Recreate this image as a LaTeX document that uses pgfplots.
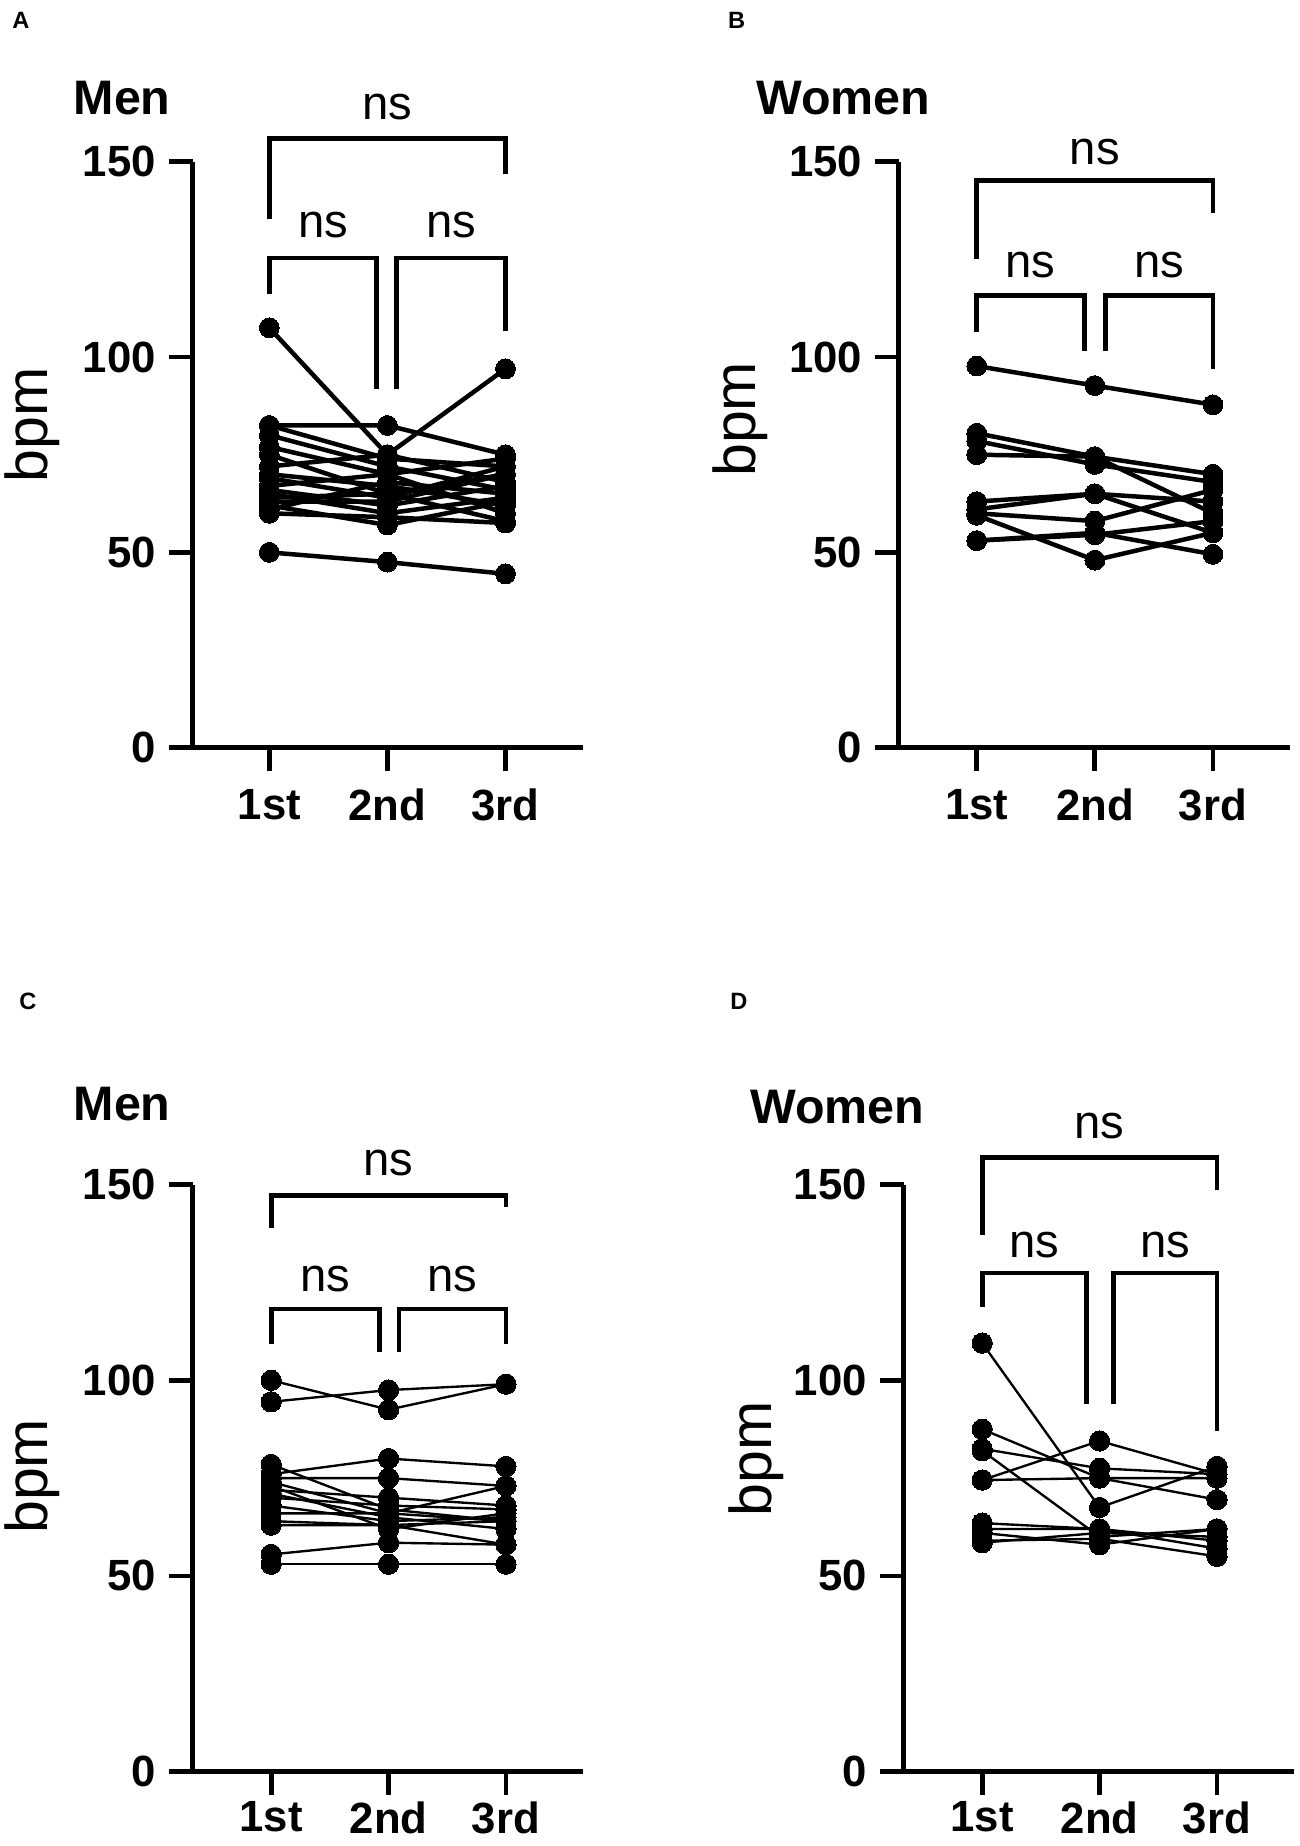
\documentclass[border=0pt]{standalone}
\usepackage{pgfplots}
\pgfplotsset{compat=1.18}
\usepackage{fontspec}
\setmainfont{Liberation Sans}
\pgfplotsset{
  panel/.style={
    scale only axis, width=165.5pt, height=248pt,
    ymin=0, ymax=150, anchor=south west, clip=false,
    axis x line*=bottom, axis y line*=left,
    axis line style={-, line width=2pt, black},
    xtick={1,2,3}, xticklabels={1st,2nd,3rd},
    ytick={0,50,100,150},
    tick align=outside, major tick length=10pt,
    tick style={line width=2pt, black},
    /pgf/number format/assume math mode=true,
    tick label style={font=\bfseries\fontsize{18.5}{20}\selectfont},
    xticklabel style={anchor=north, yshift=-4pt},
    yticklabel style={anchor=east, xshift=-2pt},
  },
  lowpanel/.style={xticklabel style={anchor=north, yshift=1.5pt, inner ysep=0pt}},
  subjA/.style={black, line width=1.9pt, mark=*, mark size=4.2pt, mark options={solid, fill=black, line width=0pt}},
  subjC/.style={black, line width=1pt, mark=*, mark size=4.3pt, mark options={solid, fill=black, line width=0pt}},
}
\tikzset{
  brk/.style={line width=2pt, black, line join=miter},
  ns/.style={font=\fontsize{20}{22}\selectfont, inner sep=0pt},
  lab/.style={anchor=west, inner sep=0pt},
}
\newcommand{\lbl}[1]{\fontsize{10}{12}\selectfont\bfseries #1}
\newcommand{\ttl}[1]{\fontsize{20.5}{24}\selectfont\bfseries #1}
\newcommand{\bpm}{\fontsize{25}{28}\selectfont bpm}
\begin{document}
\begin{tikzpicture}
\path[use as bounding box] (0,0) rectangle (550pt,-781.5pt);
% ---------- A ----------
\node[lab] at (5pt,-8.5pt) {\lbl{A}};
\node[lab] at (31pt,-41.5pt) {\ttl{Men}};
\node[rotate=90] at (13.5pt,-180pt) {\bpm};
\begin{axis}[panel, at={(81.5pt,-316.5pt)}, xmin=0.35, xmax=3.66]
\addplot[subjA] coordinates {(1,107.5) (2,75) (3,97)};
\addplot[subjA] coordinates {(1,82.5) (2,82.5) (3,75)};
\addplot[subjA] coordinates {(1,82.5) (2,74) (3,72)};
\addplot[subjA] coordinates {(1,80) (2,72) (3,66)};
\addplot[subjA] coordinates {(1,77) (2,70) (3,74)};
\addplot[subjA] coordinates {(1,75) (2,65) (3,70)};
\addplot[subjA] coordinates {(1,72) (2,75) (3,68)};
\addplot[subjA] coordinates {(1,70) (2,67) (3,62)};
\addplot[subjA] coordinates {(1,69) (2,64) (3,72)};
\addplot[subjA] coordinates {(1,67) (2,70) (3,60)};
\addplot[subjA] coordinates {(1,66) (2,62) (3,67)};
\addplot[subjA] coordinates {(1,65) (2,60) (3,64)};
\addplot[subjA] coordinates {(1,64) (2,65) (3,58)};
\addplot[subjA] coordinates {(1,63) (2,63) (3,70)};
\addplot[subjA] coordinates {(1,62) (2,57) (3,63)};
\addplot[subjA] coordinates {(1,60) (2,59) (3,57.5)};
\addplot[subjA] coordinates {(1,61) (2,68) (3,65)};
\addplot[subjA] coordinates {(1,50) (2,47.5) (3,44.5)};
\draw[brk] (axis cs:1,135.3) -- (axis cs:1,155.9) -- (axis cs:3,155.9) -- (axis cs:3,147);
\draw[brk] (axis cs:1,116.2) -- (axis cs:1,125.4) -- (axis cs:1.91,125.4) -- (axis cs:1.91,91.7);
\draw[brk] (axis cs:2.08,91.7) -- (axis cs:2.08,125.4) -- (axis cs:3,125.4) -- (axis cs:3,106.8);
\node[ns] at (axis cs:2,164) {ns};
\node[ns] at (axis cs:1.455,133.8) {ns};
\node[ns] at (axis cs:2.54,133.8) {ns};
\end{axis}
% ---------- B ----------
\node[lab] at (308pt,-8.5pt) {\lbl{B}};
\node[lab] at (320pt,-41.5pt) {\ttl{Women}};
\node[rotate=90] at (313.5pt,-177.5pt) {\bpm};
\begin{axis}[panel, at={(380.5pt,-316.5pt)}, xmin=0.34, xmax=3.65]
\addplot[subjA] coordinates {(1,97.7) (2,92.7) (3,87.8)};
\addplot[subjA] coordinates {(1,80.5) (2,74.5) (3,70)};
\addplot[subjA] coordinates {(1,78.5) (2,72.5) (3,68)};
\addplot[subjA] coordinates {(1,75) (2,74.5) (3,60)};
\addplot[subjA] coordinates {(1,63) (2,65) (3,63)};
\addplot[subjA] coordinates {(1,61) (2,65) (3,55)};
\addplot[subjA] coordinates {(1,60) (2,58) (3,66)};
\addplot[subjA] coordinates {(1,59.5) (2,48) (3,55)};
\addplot[subjA] coordinates {(1,53) (2,55) (3,49.5)};
\addplot[subjA] coordinates {(1,53) (2,54.5) (3,58)};
\draw[brk] (axis cs:1,125.2) -- (axis cs:1,145.3) -- (axis cs:3,145.3) -- (axis cs:3,137);
\draw[brk] (axis cs:1,106.4) -- (axis cs:1,115.8) -- (axis cs:1.91,115.8) -- (axis cs:1.91,101.5);
\draw[brk] (axis cs:2.09,101.5) -- (axis cs:2.09,115.8) -- (axis cs:3,115.8) -- (axis cs:3,97);
\node[ns] at (axis cs:2,152.6) {ns};
\node[ns] at (axis cs:1.455,123.5) {ns};
\node[ns] at (axis cs:2.545,123.5) {ns};
\end{axis}
% ---------- C ----------
\node[lab] at (8pt,-424pt) {\lbl{C}};
\node[lab] at (31pt,-467.5pt) {\ttl{Men}};
\node[rotate=90] at (13.5pt,-625pt) {\bpm};
\begin{axis}[panel, lowpanel, at={(81.5pt,-750pt)}, height=248.5pt, xmin=0.33, xmax=3.66]
\addplot[subjC] coordinates {(1,100) (2,92.5) (3,99)};
\addplot[subjC] coordinates {(1,94.5) (2,97.5) (3,99)};
\addplot[subjC] coordinates {(1,78.5) (2,67) (3,64)};
\addplot[subjC] coordinates {(1,76) (2,80) (3,78)};
\addplot[subjC] coordinates {(1,75) (2,75) (3,73)};
\addplot[subjC] coordinates {(1,74) (2,66) (3,73)};
\addplot[subjC] coordinates {(1,73) (2,62) (3,66)};
\addplot[subjC] coordinates {(1,72) (2,70) (3,68)};
\addplot[subjC] coordinates {(1,71) (2,65) (3,62)};
\addplot[subjC] coordinates {(1,70) (2,68) (3,67)};
\addplot[subjC] coordinates {(1,68) (2,64) (3,65)};
\addplot[subjC] coordinates {(1,66) (2,66) (3,64)};
\addplot[subjC] coordinates {(1,64) (2,63) (3,64)};
\addplot[subjC] coordinates {(1,63) (2,63) (3,58)};
\addplot[subjC] coordinates {(1,55.5) (2,58.5) (3,58)};
\addplot[subjC] coordinates {(1,53) (2,53) (3,53)};
\draw[brk] (axis cs:1,138.8) -- (axis cs:1,147.3) -- (axis cs:3,147.3) -- (axis cs:3,144.3);
\draw[brk] (axis cs:1,109.2) -- (axis cs:1,118.2) -- (axis cs:1.92,118.2) -- (axis cs:1.92,107.3);
\draw[brk] (axis cs:2.09,107.3) -- (axis cs:2.09,118.2) -- (axis cs:3,118.2) -- (axis cs:3,109.2);
\node[ns] at (axis cs:2,155.4) {ns};
\node[ns] at (axis cs:1.46,125.8) {ns};
\node[ns] at (axis cs:2.545,125.8) {ns};
\end{axis}
% ---------- D ----------
\node[lab] at (309pt,-424pt) {\lbl{D}};
\node[lab] at (317.5pt,-468.5pt) {\ttl{Women}};
\node[rotate=90] at (320pt,-617.5pt) {\bpm};
\begin{axis}[panel, lowpanel, at={(382.5pt,-750pt)}, height=248.5pt, xmin=0.33, xmax=3.66]
\addplot[subjC] coordinates {(1,109.5) (2,67.5) (3,78)};
\addplot[subjC] coordinates {(1,87.5) (2,75) (3,69.5)};
\addplot[subjC] coordinates {(1,82.5) (2,77.5) (3,76)};
\addplot[subjC] coordinates {(1,82) (2,60) (3,62)};
\addplot[subjC] coordinates {(1,74.5) (2,84.5) (3,76)};
\addplot[subjC] coordinates {(1,74.5) (2,75) (3,75)};
\addplot[subjC] coordinates {(1,63.5) (2,62) (3,59)};
\addplot[subjC] coordinates {(1,62) (2,62) (3,57)};
\addplot[subjC] coordinates {(1,61) (2,58) (3,62)};
\addplot[subjC] coordinates {(1,59) (2,59.5) (3,55)};
\addplot[subjC] coordinates {(1,58.5) (2,61) (3,60)};
\draw[brk] (axis cs:1,137.2) -- (axis cs:1,157) -- (axis cs:3,157) -- (axis cs:3,148.7);
\draw[brk] (axis cs:1,118.8) -- (axis cs:1,127.4) -- (axis cs:1.89,127.4) -- (axis cs:1.89,94);
\draw[brk] (axis cs:2.12,94) -- (axis cs:2.12,127.4) -- (axis cs:3,127.4) -- (axis cs:3,87);
\node[ns] at (axis cs:2,165) {ns};
\node[ns] at (axis cs:1.445,134.6) {ns};
\node[ns] at (axis cs:2.56,134.6) {ns};
\end{axis}
\end{tikzpicture}
\end{document}
